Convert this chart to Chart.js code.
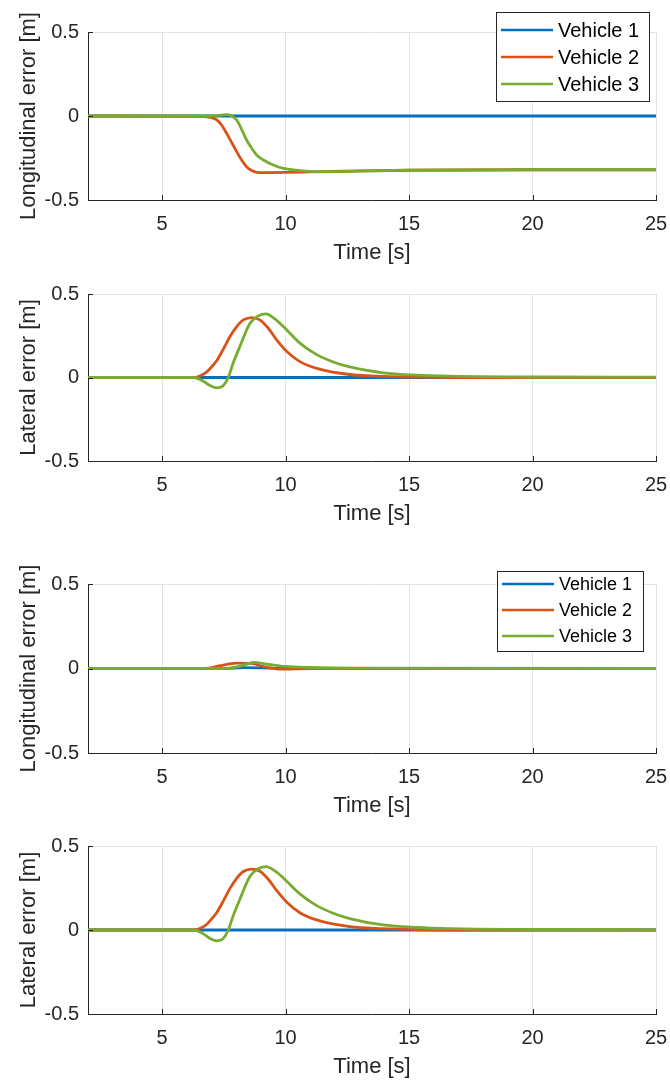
<!DOCTYPE html>
<html>
<head>
<meta charset="utf-8">
<script src="https://cdn.jsdelivr.net/npm/chart.js@4/dist/chart.umd.min.js"></script>
<style>
  html, body { margin: 0; padding: 0; background: #fff; }
  #wrap { position: relative; width: 670px; height: 1084px; }
  #wrap canvas { position: absolute; left: 0; }
</style>
</head>
<body>
<div id="wrap">
  <canvas id="c1" width="670" height="270" style="top:0px"></canvas>
  <canvas id="c2" width="670" height="262" style="top:270px"></canvas>
  <canvas id="c3" width="670" height="290" style="top:532px"></canvas>
  <canvas id="c4" width="670" height="262" style="top:822px"></canvas>
</div>
<script>
// ---- data ----
const vehicleNames = ['Vehicle 1', 'Vehicle 2', 'Vehicle 3'];
const xTicks = [5, 10, 15, 20, 25];
const yTicks = [-0.5, 0, 0.5];

// plot 1: longitudinal error (first run)
const long1T1 = [2, 25];
const long1V1 = [0, 0];
const long1T2 = [2, 6.5, 6.94, 7.2, 7.4, 7.6, 7.8, 8.02, 8.22, 8.42, 8.63, 8.83, 9.23, 10, 11, 12, 13, 15, 20, 25];
const long1V2 = [0, -0.002, -0.008, -0.022, -0.052, -0.1, -0.153, -0.212, -0.262, -0.302, -0.325, -0.335, -0.337, -0.336, -0.333, -0.33, -0.327, -0.323, -0.32, -0.32];
const long1T3 = [2, 7.0, 7.3, 7.6, 7.8, 8.02, 8.22, 8.42, 8.63, 8.83, 9.1, 9.5, 9.91, 10.58, 11.5, 13, 15, 20, 25];
const long1V3 = [0, 0, 0.004, 0.008, 0.002, -0.024, -0.079, -0.143, -0.192, -0.232, -0.262, -0.292, -0.312, -0.325, -0.332, -0.328, -0.323, -0.32, -0.32];

// plot 2: lateral error (first run)
const lat1T1 = [2, 25];
const lat1V1 = [0, 0];
const lat1T2 = [2, 6.3, 6.55, 6.8, 7.0, 7.21, 7.48, 7.75, 8.02, 8.29, 8.63, 8.96, 9.3, 9.64, 10.05, 10.58, 11.26, 12.6, 13.95, 15.3, 17, 25];
const lat1V2 = [0, 0, 0.01, 0.032, 0.063, 0.1, 0.17, 0.245, 0.305, 0.345, 0.359, 0.345, 0.295, 0.225, 0.155, 0.095, 0.055, 0.018, 0.007, 0.002, 0, 0];
const lat1T3 = [2, 6.3, 6.67, 6.94, 7.21, 7.48, 7.68, 7.88, 8.15, 8.56, 8.9, 9.21, 9.58, 9.91, 10.58, 11.26, 11.93, 12.6, 13.95, 15.3, 16.65, 20, 25];
const lat1V3 = [0, 0, -0.022, -0.048, -0.062, -0.048, 0, 0.087, 0.186, 0.325, 0.369, 0.381, 0.349, 0.305, 0.206, 0.137, 0.093, 0.063, 0.028, 0.014, 0.008, 0.003, 0.002];

// plot 3: longitudinal error (second run)
const long2T1 = [2, 7.5, 8.3, 9, 10, 25];
const long2V1 = [0, 0, 0.005, 0.004, 0, 0];
const long2T2 = [2, 6.7, 7.3, 8.0, 8.6, 9.2, 9.8, 11, 25];
const long2V2 = [0, 0, 0.015, 0.032, 0.03, 0.008, -0.004, 0, 0];
const long2T3 = [2, 7.5, 8.2, 8.7, 9.3, 10, 11, 13, 25];
const long2V3 = [0, 0, 0.015, 0.036, 0.025, 0.012, 0.006, 0.002, 0];

// plot 4: lateral error (second run)
const lat2T1 = [2, 25];
const lat2V1 = [0, 0];
const lat2T2 = [2, 6.3, 6.55, 6.8, 7.0, 7.21, 7.48, 7.75, 8.02, 8.29, 8.63, 8.96, 9.3, 9.64, 10.05, 10.58, 11.26, 12.6, 13.95, 15.3, 17, 25];
const lat2V2 = [0, 0, 0.01, 0.033, 0.065, 0.103, 0.173, 0.248, 0.308, 0.348, 0.362, 0.35, 0.302, 0.235, 0.165, 0.103, 0.06, 0.02, 0.008, 0.002, 0, 0];
const lat2T3 = [2, 6.3, 6.67, 6.94, 7.21, 7.48, 7.68, 7.88, 8.15, 8.56, 8.9, 9.21, 9.58, 9.91, 10.58, 11.26, 11.93, 12.6, 13.95, 15.3, 16.65, 20, 25];
const lat2V3 = [0, 0, -0.023, -0.05, -0.065, -0.05, 0, 0.085, 0.183, 0.32, 0.365, 0.377, 0.35, 0.31, 0.215, 0.145, 0.1, 0.068, 0.03, 0.015, 0.008, 0.003, 0.001];

const colors = ['#0072BD', '#D95319', '#77AC30'];
const FONT = "'Liberation Sans', Arial, sans-serif";
const TXT = '#262626';

function pts(t, v) {
    return t.map((x, i) => ({ x: x, y: v[i] }));
}

// MATLAB style inward tick marks + boxed legend inside the axes
const matlabBits = {
    id: 'matlabBits',
    afterDraw(chart, args, opts) {
        const ctx = chart.ctx;
        const xs = chart.scales.x, ys = chart.scales.y;
        const a = chart.chartArea;
        ctx.save();
        ctx.strokeStyle = TXT;
        ctx.lineWidth = 1;
        ctx.beginPath();
        xTicks.forEach(v => {
            const px = Math.round(xs.getPixelForValue(v)) + 0.5;
            ctx.moveTo(px, a.bottom);
            ctx.lineTo(px, a.bottom - 5);
        });
        yTicks.forEach(v => {
            const py = Math.round(ys.getPixelForValue(v)) + 0.5;
            ctx.moveTo(a.left, py);
            ctx.lineTo(a.left + 5, py);
        });
        ctx.stroke();

        if (opts && opts.box) {
            const b = opts.box;
            ctx.fillStyle = '#fff';
            ctx.fillRect(b.x, b.y, b.w, b.h);
            ctx.strokeStyle = TXT;
            ctx.strokeRect(b.x + 0.5, b.y + 0.5, b.w, b.h);
            ctx.font = opts.fontSize + 'px ' + FONT;
            ctx.textBaseline = 'middle';
            ctx.textAlign = 'left';
            chart.data.datasets.forEach((ds, i) => {
                const yy = b.y + opts.rowTop + i * opts.rowGap;
                ctx.strokeStyle = ds.borderColor;
                ctx.lineWidth = 2.5;
                ctx.beginPath();
                ctx.moveTo(b.x + 5, yy);
                ctx.lineTo(b.x + 57, yy);
                ctx.stroke();
                ctx.fillStyle = '#000';
                ctx.fillText(ds.label, b.x + 62, yy + 1);
            });
        }
        ctx.restore();
    }
};

function makeChart(id, yTitle, series, padTop, padBottom, legend) {
    const datasets = series.map((s, i) => ({
        label: vehicleNames[i],
        data: pts(s[0], s[1]),
        borderColor: colors[i],
        backgroundColor: colors[i],
        borderWidth: 2.8,
        pointRadius: 0,
        cubicInterpolationMode: 'monotone',
        order: 3 - i
    }));
    return new Chart(document.getElementById(id).getContext('2d'), {
        type: 'line',
        data: { datasets: datasets },
        options: {
            responsive: false,
            animation: false,
            devicePixelRatio: 1,
            layout: { padding: { top: padTop, bottom: padBottom, left: 0, right: 14 } },
            plugins: {
                legend: { display: false },
                tooltip: { enabled: false },
                matlabBits: legend
            },
            scales: {
                x: {
                    type: 'linear',
                    min: 2,
                    max: 25,
                    afterBuildTicks: s => { s.ticks = xTicks.map(v => ({ value: v })); },
                    afterFit: s => { s.height = 66; },
                    grid: { color: '#e3e3e3', drawTicks: true, tickLength: 12, tickColor: 'rgba(0,0,0,0)' },
                    border: { color: TXT, width: 1 },
                    ticks: { color: TXT, font: { family: FONT, size: 20 }, padding: 0, maxRotation: 0 },
                    title: { display: true, text: 'Time [s]', color: TXT, font: { family: FONT, size: 22 }, padding: { top: 0, bottom: 0 } }
                },
                y: {
                    min: -0.5,
                    max: 0.5,
                    afterBuildTicks: s => { s.ticks = yTicks.map(v => ({ value: v })); },
                    afterFit: s => { s.width = 88; },
                    grid: { color: '#e3e3e3', drawTicks: false },
                    border: { color: TXT, width: 1 },
                    ticks: { color: TXT, font: { family: FONT, size: 20 }, padding: 9, callback: v => String(v) },
                    title: { display: true, text: yTitle, color: TXT, font: { family: FONT, size: 22 }, padding: { top: 16, bottom: 0 } }
                }
            }
        },
        plugins: [matlabBits]
    });
}

makeChart('c1', 'Longitudinal error [m]',
    [[long1T1, long1V1], [long1T2, long1V2], [long1T3, long1V3]], 32, 4,
    { box: { x: 496, y: 12, w: 153, h: 89 }, fontSize: 20, rowTop: 18, rowGap: 27 });
makeChart('c2', 'Lateral error [m]',
    [[lat1T1, lat1V1], [lat1T2, lat1V2], [lat1T3, lat1V3]], 24, 5, {});
makeChart('c3', 'Longitudinal error [m]',
    [[long2T1, long2V1], [long2T2, long2V2], [long2T3, long2V3]], 52, 3,
    { box: { x: 497, y: 39, w: 146, h: 80 }, fontSize: 18, rowTop: 13, rowGap: 26 });
makeChart('c4', 'Lateral error [m]',
    [[lat2T1, lat2V1], [lat2T2, lat2V2], [lat2T3, lat2V3]], 24, 4, {});
</script>
</body>
</html>
